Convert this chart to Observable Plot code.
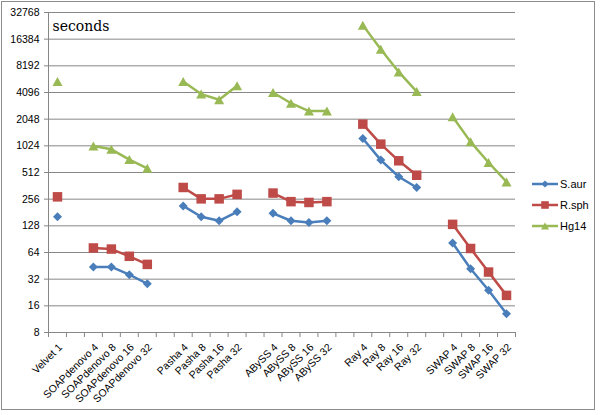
<!DOCTYPE html>
<html>
<head>
<meta charset="utf-8">
<script src="https://cdn.jsdelivr.net/npm/d3@7"></script>
<script src="https://cdn.jsdelivr.net/npm/@observablehq/plot@0.6"></script>
<style>
  html, body { margin: 0; padding: 0; background: #fff; }
  #wrap { position: relative; width: 600px; height: 415px; font-family: "Liberation Sans", Arial, sans-serif; }
  #frame { position: absolute; left: 1px; top: 1px; width: 594px; height: 409px; border: 1px solid #8c8c8c; box-sizing: border-box; pointer-events: none; }
  #legend { position: absolute; left: 532px; top: 173px; font-size: 11px; color: #000; }
  #legend .row { display: flex; align-items: center; height: 21px; }
  #legend svg { display: block; }
</style>
</head>
<body>
<div id="wrap">
  <div id="chart"></div>
  <div id="frame"></div>
  <div id="legend"></div>
</div>
<script>
// ---- data ----
const categories = [
  "Velvet 1", "",
  "SOAPdenovo 4", "SOAPdenovo 8", "SOAPdenovo 16", "SOAPdenovo 32", "",
  "Pasha 4", "Pasha 8", "Pasha 16", "Pasha 32", "",
  "ABySS 4", "ABySS 8", "ABySS 16", "ABySS 32", "",
  "Ray 4", "Ray 8", "Ray 16", "Ray 32", "",
  "SWAP 4", "SWAP 8", "SWAP 16", "SWAP 32"
];
const seriesNames = ["S.aur", "R.sph", "Hg14"];
const saur = [162, null, 44, 44, 36, 28.4, null, 215, 162, 146, 184, null, 177, 146, 140, 146, null, 1240, 707, 458, 347, null, 82, 42, 24, 13];
const rsph = [272, null, 72, 70, 58, 47, null, 347, 258, 258, 290, null, 300, 240, 235, 240, null, 1800, 1070, 694, 477, null, 133, 71, 38.5, 21];
const hg14 = [5440, null, 1018, 935, 717, 570, null, 5440, 3930, 3390, 4880, null, 4100, 3100, 2530, 2530, null, 23600, 12600, 6990, 4200, null, 2175, 1135, 664, 401];
const yTicks = [8, 16, 32, 64, 128, 256, 512, 1024, 2048, 4096, 8192, 16384, 32768];
const colors = ["#4A7EBB", "#BE4B48", "#98B954"];

// ---- symbols ----
const diamondSym = { draw(ctx, size) { const r = Math.sqrt(size / Math.PI); const s = r * 0.9; ctx.moveTo(0, -s); ctx.lineTo(s, 0); ctx.lineTo(0, s); ctx.lineTo(-s, 0); ctx.closePath(); } };
const squareSym = { draw(ctx, size) { const r = Math.sqrt(size / Math.PI); const s = r * 0.95; ctx.rect(-s, -s, 2 * s, 2 * s); } };
const triangleSym = { draw(ctx, size) { const r = Math.sqrt(size / Math.PI); const w = r, h = r * 0.9; ctx.moveTo(0, -h); ctx.lineTo(w, h); ctx.lineTo(-w, h); ctx.closePath(); } };
const symbols = [diamondSym, squareSym, triangleSym];

const seriesValues = [saur, rsph, hg14];
const rows = [];
seriesValues.forEach((vals, s) => {
  vals.forEach((v, i) => rows.push({ x: i + 0.5, y: v == null ? NaN : v, series: seriesNames[s] }));
});

const labelTicks = categories.map((c, i) => i + 0.5).filter((v) => categories[Math.floor(v)] !== "");

const marks = [
  Plot.ruleY(yTicks, { stroke: "#878787", strokeWidth: 1 }),
  Plot.ruleX([0], { stroke: "#878787", strokeWidth: 1 }),
  Plot.axisY({ ticks: yTicks, tickFormat: (d) => String(d), tickSize: 4, tickPadding: 5, stroke: "#878787", fill: "#000", label: null }),
  Plot.axisX({ ticks: d3.range(0, categories.length + 1), tickFormat: () => "", tickSize: 5, stroke: "#878787", label: null }),
  Plot.axisX({ ticks: labelTicks, tickFormat: (v) => categories[Math.floor(v)], tickSize: 0, tickPadding: 13, tickRotate: -45, fill: "#000", label: null, dx: 3 }),
  Plot.text(["seconds"], { frameAnchor: "top-left", dx: 4, dy: 9, textAnchor: "start", lineAnchor: "top", fontFamily: "DejaVu Serif", fontSize: 14, fill: "#000" })
];
seriesNames.forEach((name, s) => {
  const data = rows.filter((d) => d.series === name);
  marks.push(Plot.line(data, { x: "x", y: "y", stroke: colors[s], strokeWidth: 2.5 }));
  marks.push(Plot.dot(data.filter((d) => !isNaN(d.y)), { x: "x", y: "y", r: 5, symbol: () => symbols[s], fill: colors[s], stroke: "none" }));
});

const chart = Plot.plot({
  width: 600,
  height: 415,
  marginLeft: 48,
  marginRight: 85,
  marginTop: 12,
  marginBottom: 83,
  style: { fontFamily: "Liberation Sans, Arial, sans-serif", fontSize: "10.5px", background: "#fff", color: "#000" },
  x: { type: "linear", domain: [0, categories.length], axis: null },
  y: { type: "log", base: 2, domain: [8, 32768], axis: null },
  marks
});
document.getElementById("chart").appendChild(chart);

// ---- legend ----
const legend = document.getElementById("legend");
seriesNames.forEach((name, s) => {
  const row = document.createElement("div");
  row.className = "row";
  const svg = d3.create("svg").attr("width", 27).attr("height", 12);
  svg.append("line").attr("x1", 0).attr("x2", 26).attr("y1", 6).attr("y2", 6).attr("stroke", colors[s]).attr("stroke-width", 2.5);
  const p = d3.path();
  symbols[s].draw(p, Math.PI * 16);
  svg.append("path").attr("d", p.toString()).attr("transform", "translate(13,6)").attr("fill", colors[s]);
  row.appendChild(svg.node());
  const t = document.createElement("span");
  t.textContent = name;
  t.style.marginLeft = "1px";
  row.appendChild(t);
  legend.appendChild(row);
});
</script>
</body>
</html>
